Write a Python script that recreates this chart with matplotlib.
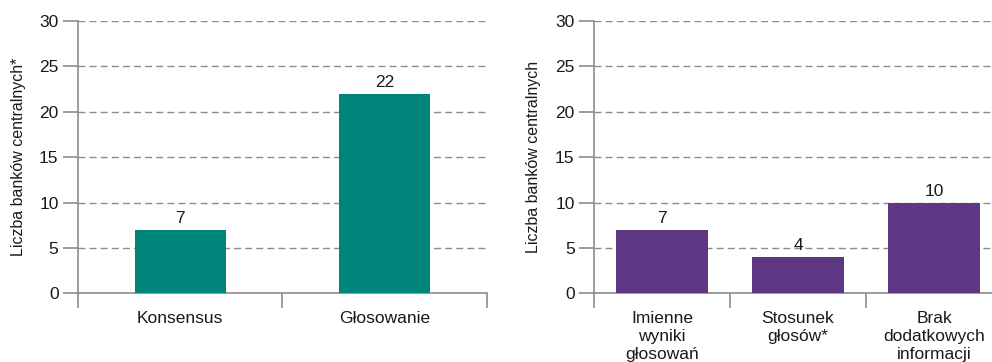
import matplotlib
matplotlib.use("Agg")
import matplotlib.pyplot as plt
from matplotlib import font_manager

# Data
left_categories = ["Konsensus", "Głosowanie"]
left_values = [7, 22]
right_categories = ["Imienne\nwyniki\ngłosowań", "Stosunek\ngłosów*", "Brak\ndodatkowych\ninformacji"]
right_values = [7, 4, 10]
y_ticks = [0, 5, 10, 15, 20, 25, 30]
left_ylabel = "Liczba banków centralnych*"
right_ylabel = "Liczba banków centralnych"

teal = "#00857a"
purple = "#5e3784"
axis_gray = "#8c8c8c"
grid_gray = "#8c8c8c"

available = {f.name for f in font_manager.fontManager.ttflist}
family = "Liberation Sans Narrow" if "Liberation Sans Narrow" in available else "Liberation Sans"
plt.rcParams["font.family"] = [family, "DejaVu Sans"]
plt.rcParams["font.size"] = 12.5

fig = plt.figure(figsize=(9.92, 3.62), dpi=100)
ax1 = fig.add_axes([0.0786, 0.1898, 0.4123, 0.752])
ax2 = fig.add_axes([0.5988, 0.1898, 0.4113, 0.752])


def style(ax, cats, vals, color, width, ylabel, label_x):
    n = len(cats)
    xs = list(range(n))
    ax.set_xlim(-0.5, n - 0.5)
    ax.set_ylim(0, 30)
    ax.set_yticks(y_ticks)
    ax.yaxis.grid(True, linestyle=(0, (5, 3)), color=grid_gray, linewidth=1)
    ax.set_axisbelow(True)
    bars = ax.bar(xs, vals, width=width, color=color, zorder=3)
    for b, v in zip(bars, vals):
        ax.text(b.get_x() + b.get_width() / 2, v + 0.4, str(v),
                ha="center", va="bottom", fontsize=12.5, color="#1a1a1a", zorder=4)
    # category boundaries as outward ticks
    ax.set_xticks([i - 0.5 for i in range(n + 1)])
    ax.set_xticklabels([])
    ax.set_xticks(xs, minor=True)
    ax.set_xticklabels(cats, minor=True, linespacing=1.25, va="top")
    ax.tick_params(axis="x", which="major", length=11, width=1.2, color=axis_gray, direction="out")
    ax.tick_params(axis="x", which="minor", length=0, pad=13, labelsize=12.5, labelcolor="#1a1a1a")
    ax.tick_params(axis="y", length=11, width=1.2, color=axis_gray, direction="out",
                   pad=3, labelsize=12.5, labelcolor="#1a1a1a")
    for s in ["top", "right"]:
        ax.spines[s].set_visible(False)
    for s in ["left", "bottom"]:
        ax.spines[s].set_color(axis_gray)
        ax.spines[s].set_linewidth(1.2)
    ax.set_ylabel(ylabel, fontsize=11.5, color="#1a1a1a")
    ax.yaxis.set_label_coords(label_x, 0.5)


style(ax1, left_categories, left_values, teal, 0.445, left_ylabel, -0.128)
style(ax2, right_categories, right_values, purple, 0.67, right_ylabel, -0.131)

fig.savefig("out.png", dpi=100)
